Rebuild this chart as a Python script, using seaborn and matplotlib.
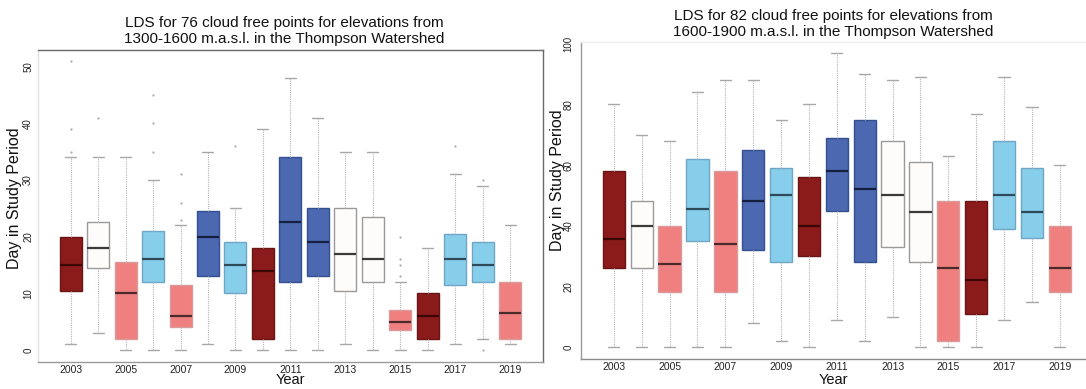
import numpy as np
import pandas as pd
import matplotlib
matplotlib.use("Agg")
import matplotlib.pyplot as plt
import seaborn as sns

# ---- data: Last Day of Snow (LDS) box statistics per year ----
years = [str(y) for y in range(2003, 2020)]
tick_labels = [y if int(y) % 2 == 1 else "" for y in years]

fill_colors = ["#8B1A1A", "#FDFCFB", "#F08080", "#87CEEB", "#F08080", "#4B68B0",
               "#87CEEB", "#8B1A1A", "#4B68B0", "#4B68B0", "#FDFCFB", "#FDFCFB",
               "#F08080", "#8B1A1A", "#87CEEB", "#87CEEB", "#F08080"]

# 1300-1600 m.a.s.l.
low_a = [1, 3, 0, 0, 0, 1, 0, 0, 0, 0, 1, 0, 0, 0, 1, 2, 1]
q1_a = [10.5, 14.5, 2, 12, 4, 13, 10, 2, 12, 13, 10.5, 12, 3.5, 2, 11.5, 12, 2]
med_a = [15, 18, 10, 16, 6, 20, 15, 14, 22.5, 19, 17, 16, 5, 6, 16, 15, 6.5]
q3_a = [20, 22.5, 15.5, 21, 11.5, 24.5, 19, 18, 34, 25, 25, 23.5, 7, 10, 20.5, 19, 12]
high_a = [34, 34, 34, 30, 22, 35, 25, 39, 48, 41, 35, 35, 12, 18, 31, 29, 22]
out_year_a = ["2003", "2003", "2003", "2004", "2006", "2006", "2006", "2007", "2007",
              "2007", "2009", "2015", "2015", "2015", "2015", "2017", "2018", "2018"]
out_val_a = [35, 39, 51, 41, 35, 40, 45, 23, 26, 31, 36, 13, 15, 16, 20, 36, 30, 0]

# 1600-1900 m.a.s.l.
low_b = [0, 0, 0, 0, 0, 8, 2, 0, 9, 2, 10, 0, 0, 0, 9, 15, 0]
q1_b = [26, 26, 18, 35, 18, 32, 28, 30, 45, 28, 33, 28, 2, 11, 39, 36, 18]
med_b = [35.5, 40, 27.5, 45.5, 34, 48, 50, 40, 58, 52, 50, 44.5, 26, 22, 50, 44.5, 26]
q3_b = [58, 48, 40, 62, 58, 65, 59, 56, 69, 75, 68, 61, 48, 48, 68, 59, 40]
high_b = [80, 70, 68, 84, 88, 88, 75, 80, 97, 90, 88, 89, 63, 77, 89, 79, 60]
out_year_b = []
out_val_b = []

title_a = "LDS for 76 cloud free points for elevations from\n1300-1600 m.a.s.l. in the Thompson Watershed"
title_b = "LDS for 82 cloud free points for elevations from\n1600-1900 m.a.s.l. in the Thompson Watershed"

# ---- styling helpers ----
edge_for = {"#8B1A1A": "#6A1515", "#FDFCFB": "#9A9A9A", "#F08080": "#D99A9A",
            "#87CEEB": "#6FA6C4", "#4B68B0": "#34508F"}
median_for = {"#8B1A1A": "#3A0606", "#FDFCFB": "#3A3A3A", "#F08080": "#4A2A2A",
              "#87CEEB": "#2F4A58", "#4B68B0": "#152040"}

sns.set_theme(style="white")
plt.rcParams["font.family"] = ["Liberation Sans", "DejaVu Sans"]

fig = plt.figure(figsize=(10.86, 3.89), dpi=100)
W, H = 1086, 389


def axes_px(x0, y0, x1, y1):
    return fig.add_axes([x0 / W, 1 - y1 / H, (x1 - x0) / W, (y1 - y0) / H])


def draw_panel(ax, low, q1, med, q3, high, out_years, out_vals):
    frame = pd.DataFrame({
        "year": np.repeat(years, 5),
        "day": np.column_stack([low, q1, med, q3, high]).ravel().astype(float),
    })
    sns.boxplot(data=frame, x="year", y="day", hue="year", order=years,
                hue_order=years, palette=dict(zip(years, fill_colors)),
                whis=(0, 100), width=0.8, showfliers=False, legend=False,
                saturation=1, linewidth=1, linecolor="#999999", ax=ax)
    for i, cont in enumerate(ax.containers):
        fc = fill_colors[i]
        for b in cont.boxes:
            b.set_edgecolor(edge_for[fc])
            b.set_linewidth(1.0)
        for m in cont.medians:
            m.set_color(median_for[fc])
            m.set_linewidth(1.6)
        for w in cont.whiskers:
            w.set_color("#b5b5b5")
            w.set_linestyle((0, (1, 1)))
            w.set_linewidth(0.8)
        for c in cont.caps:
            c.set_color("#a8a8a8")
            c.set_linewidth(1.0)
    if out_vals:
        sns.stripplot(x=out_years, y=out_vals, order=years, jitter=False,
                      color="#ababab", size=1.6, linewidth=0, ax=ax)
    ax.set_xticks(range(len(years)))
    ax.set_xticklabels(tick_labels)
    ax.tick_params(axis="both", length=3, width=0.8, color="#9a9a9a",
                   labelsize=7.5, labelcolor="#222222")
    ax.tick_params(axis="x", pad=-0.8)
    ax.tick_params(axis="y", labelrotation=90, labelsize=7)
    for lbl in ax.get_yticklabels():
        lbl.set_verticalalignment("center")


# left panel
ax1 = axes_px(38, 50, 543, 362)
draw_panel(ax1, low_a, q1_a, med_a, q3_a, high_a, out_year_a, out_val_a)
ax1.set_xlim(-1.19, 17.2)
ax1.set_ylim(-2.1, 52.9)
ax1.set_yticks([0, 10, 20, 30, 40, 50])
ax1.tick_params(axis="y", pad=0.5)
for side, col in [("top", "#6a6a6a"), ("right", "#6a6a6a"),
                  ("bottom", "#9a9a9a"), ("left", "#e2e2e2")]:
    ax1.spines[side].set_visible(True)
    ax1.spines[side].set_color(col)
    ax1.spines[side].set_linewidth(1.0)

# right panel
ax2 = axes_px(581, 42, 1086, 359)
draw_panel(ax2, low_b, q1_b, med_b, q3_b, high_b, out_year_b, out_val_b)
ax2.set_xlim(-1.18, 16.94)
ax2.set_ylim(-3.96, 100.6)
ax2.set_yticks([0, 20, 40, 60, 80, 100])
ax2.tick_params(axis="y", pad=2.5)
for side, col in [("top", "#eeeeee"), ("left", "#9a9a9a"), ("bottom", "#8a8a8a")]:
    ax2.spines[side].set_visible(True)
    ax2.spines[side].set_color(col)
    ax2.spines[side].set_linewidth(1.0)
ax2.spines["right"].set_visible(False)

# axis titles
for ax, ylab_x, ylab_y, xlab_y in [(ax1, -0.0317, 0.526, -0.036),
                                    (ax2, -0.032, 0.565, -0.044)]:
    ax.set_xlabel("Year", fontsize=10.5, color="#111111")
    ax.set_ylabel("Day in Study Period", fontsize=11.5, color="#111111")
    ax.xaxis.set_label_coords(0.5, xlab_y)
    ax.yaxis.set_label_coords(ylab_x, ylab_y)

# panel titles
fig.text(284 / W, 1 - 31 / H, title_a, ha="center", va="center",
         fontsize=11, linespacing=1.25, color="#111111")
fig.text(833 / W, 1 - 24 / H, title_b, ha="center", va="center",
         fontsize=11, linespacing=1.25, color="#111111")

fig.savefig("out.png", dpi=100, facecolor="white")
